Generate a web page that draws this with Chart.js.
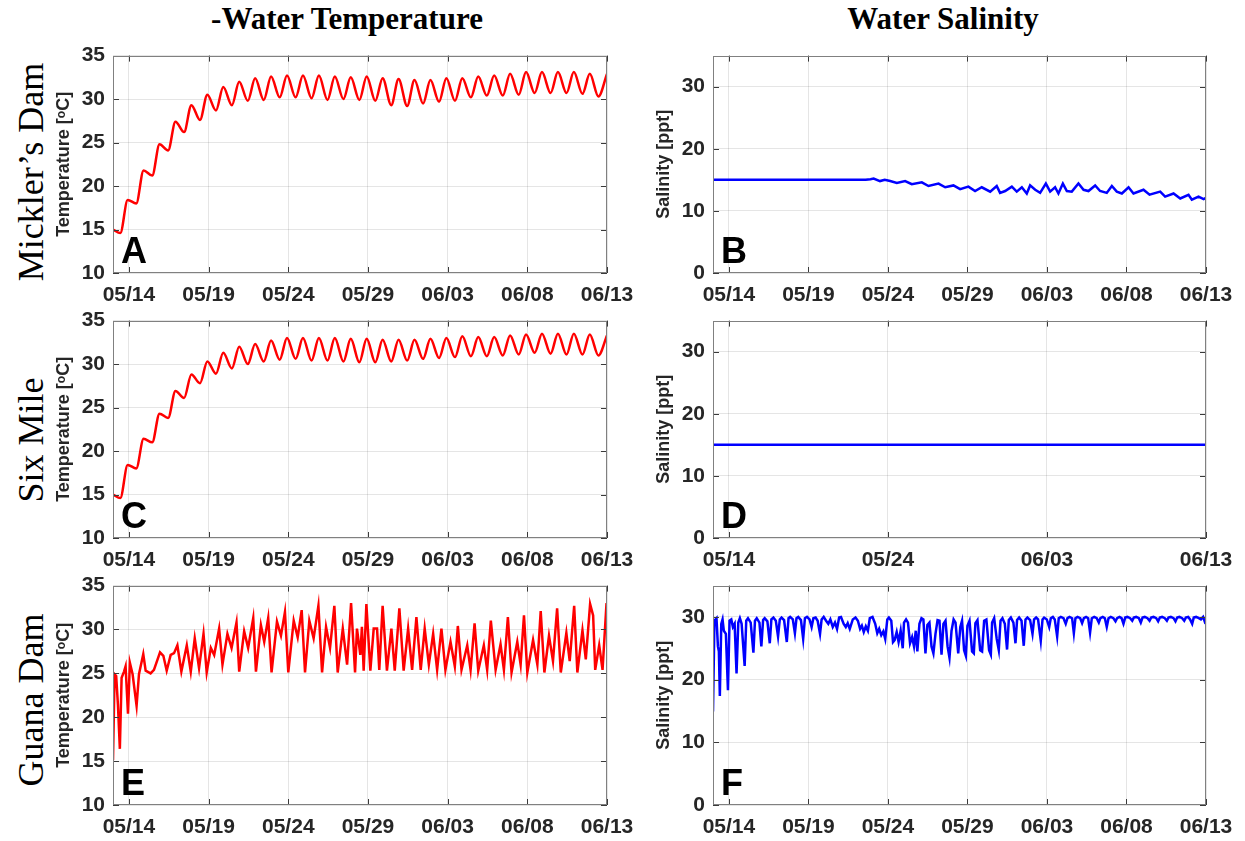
<!DOCTYPE html>
<html>
<head>
<meta charset="utf-8">
<script src="https://cdn.jsdelivr.net/npm/chart.js@4.4.1/dist/chart.umd.min.js"></script>
<style>
  html, body { margin: 0; padding: 0; background: #fff; }
  #page { position: relative; width: 1245px; height: 841px; overflow: hidden; background: #fff; }
  #page canvas { position: absolute; }
  .ctitle { position: absolute; top: 1px; font: bold 31px "Liberation Serif", serif; color: #000;
            transform: translateX(-50%); white-space: nowrap; }
  .rlabel { position: absolute; left: 31px; font: 36px "Liberation Serif", serif; color: #000;
            transform: translate(-50%, -50%) rotate(-90deg); white-space: nowrap; }
</style>
</head>
<body>
<div id="page">
  <div class="ctitle" style="left:347px">-Water Temperature</div>
  <div class="ctitle" style="left:943px">Water Salinity</div>
  <div class="rlabel" style="top:172px">Mickler’s Dam</div>
  <div class="rlabel" style="top:440px">Six Mile</div>
  <div class="rlabel" style="top:700px">Guana Dam</div>
</div>
<script>
// x values are days since 05/13 00:00
const dayTicks = [1, 6, 11, 16, 21, 26, 31];
const dayLabels = ['05/14', '05/19', '05/24', '05/29', '06/03', '06/08', '06/13'];
const dayTicksWide = [1, 11, 21, 31];
const dayLabelsWide = ['05/14', '05/24', '06/03', '06/13'];
const tempTicks = [10, 15, 20, 25, 30, 35];
const salTicks = [0, 10, 20, 30];

// Mickler's Dam temperature, daily lows / highs (°C), first and last reading
const micklerTempEnds = [15.0, 32.9];
const micklerTempLows = [14.6, 18.0, 21.2, 24.1, 26.2, 27.6, 28.7, 29.3, 29.8, 29.9, 30.2, 30.2, 30.1, 29.9, 30.0, 29.9,
  29.8, 29.3, 29.2, 29.5, 29.7, 29.8, 30.2, 30.4, 30.4, 30.5, 30.7, 30.7, 30.7, 30.6, 30.3];
const micklerTempHighs = [18.4, 21.8, 24.8, 27.4, 29.3, 30.5, 31.4, 32.0, 32.4, 32.6, 32.7, 32.7, 32.7, 32.6, 32.5,
  32.6, 32.4, 32.3, 32.2, 32.2, 32.4, 32.4, 32.6, 32.7, 32.9, 33.1, 33.1, 33.1, 33.1, 32.9];

// Six Mile temperature
const sixMileTempEnds = [15.0, 33.3];
const sixMileTempLows = [14.6, 18.0, 21.0, 23.8, 26.1, 27.8, 28.9, 29.5, 30.0, 30.3, 30.5, 30.6, 30.4, 30.4, 30.3, 30.2,
  30.2, 30.3, 30.4, 30.6, 30.7, 30.8, 30.9, 30.9, 31.0, 31.1, 31.3, 31.2, 31.1, 31.1, 31.0];
const sixMileTempHighs = [18.4, 21.4, 24.3, 26.9, 28.8, 30.3, 31.3, 32.0, 32.3, 32.7, 33.0, 33.0, 33.0, 33.0, 32.9,
  32.9, 32.8, 32.8, 32.8, 32.9, 33.0, 33.2, 33.1, 33.1, 33.3, 33.4, 33.5, 33.5, 33.5, 33.4];

// Guana Dam temperature [day, °C]
const guanaTemp = [[0, 15.1], [0.10, 24.9], [0.20, 24.7], [0.31, 21.4], [0.43, 16.4], [0.54, 24.5], [0.69, 25.2],
  [0.79, 25.8], [0.94, 20.4], [1.06, 26.2], [1.23, 24.9], [1.48, 21.3], [1.63, 24.9], [1.90, 27.2], [2.05, 25.3],
  [2.36, 25.0], [2.57, 25.4], [2.95, 27.4], [3.16, 27.0], [3.37, 25.3], [3.62, 27.1], [3.83, 27.3], [4.04, 28.2],
  [4.29, 25.2], [4.63, 28.2], [4.88, 25.2], [5.13, 29.0], [5.40, 25.6], [5.68, 29.5], [5.88, 25.1], [6.14, 27.9],
  [6.35, 27.1], [6.66, 30.1], [6.87, 26.0], [7.18, 29.5], [7.44, 27.9], [7.75, 30.8], [7.92, 25.2], [8.23, 29.8],
  [8.48, 27.9], [8.80, 31.3], [8.97, 25.2], [9.28, 30.5], [9.49, 28.6], [9.74, 31.3], [9.95, 25.1], [10.29, 30.9],
  [10.54, 29.3], [10.79, 32.0], [11.00, 25.1], [11.34, 31.0], [11.59, 29.1], [11.84, 32.2], [12.05, 25.1],
  [12.32, 31.0], [12.59, 29.0], [12.89, 32.7], [13.12, 25.1], [13.37, 30.3], [13.62, 27.9], [13.89, 32.7],
  [14.10, 25.1], [14.42, 30.1], [14.69, 26.0], [14.94, 33.0], [15.19, 25.1], [15.31, 30.1], [15.52, 27.1],
  [15.62, 30.3], [15.73, 25.3], [15.90, 32.9], [16.15, 25.3], [16.36, 30.1], [16.57, 30.1], [16.71, 25.4],
  [16.92, 32.7], [17.19, 25.3], [17.47, 30.1], [17.68, 25.3], [17.97, 32.4], [18.24, 25.3], [18.52, 30.1],
  [18.77, 25.4], [19.04, 31.4], [19.31, 25.4], [19.56, 30.1], [19.82, 26.0], [20.09, 29.5], [20.34, 25.4],
  [20.61, 30.1], [20.86, 25.4], [21.18, 28.6], [21.45, 25.8], [21.64, 30.4], [21.87, 25.4], [22.23, 28.2],
  [22.44, 25.4], [22.69, 30.7], [22.92, 25.3], [23.27, 28.2], [23.48, 25.4], [23.71, 31.0], [24.01, 25.4],
  [24.32, 28.3], [24.53, 25.4], [24.78, 31.4], [25.01, 25.1], [25.37, 28.6], [25.58, 26.0], [25.79, 31.6],
  [26.00, 25.1], [26.36, 28.8], [26.63, 26.0], [26.84, 32.1], [27.07, 25.1], [27.36, 29.3], [27.61, 26.4],
  [27.87, 32.4], [28.10, 25.1], [28.45, 29.6], [28.66, 26.4], [28.94, 32.7], [29.14, 25.1], [29.46, 29.9],
  [29.67, 26.6], [29.94, 32.9], [30.13, 31.6], [30.26, 25.4], [30.51, 28.2], [30.72, 25.4], [30.97, 33.0]];

// Mickler's Dam salinity [day, ppt]
const micklerSal = [[0, 15.0], [9.6, 15.0], [9.9, 15.1], [10.1, 15.2], [10.5, 14.8], [10.8, 15.0], [11.14, 14.8],
  [11.56, 14.5], [12.08, 14.8], [12.5, 14.3], [13.13, 14.6], [13.55, 14.0], [14.18, 14.4], [14.6, 13.8],
  [15.12, 14.1], [15.54, 13.5], [16.06, 13.9], [16.48, 13.2], [16.9, 13.8], [17.43, 13.1], [17.84, 14.0],
  [18.05, 12.9], [18.37, 13.2], [18.79, 13.9], [19.1, 13.1], [19.42, 13.8], [19.73, 12.8], [19.94, 14.1],
  [20.26, 13.4], [20.57, 12.9], [20.93, 14.4], [21.2, 13.1], [21.51, 13.8], [21.72, 12.8], [22.0, 14.4],
  [22.25, 13.2], [22.56, 13.1], [22.98, 14.4], [23.3, 13.4], [23.61, 13.2], [24.03, 14.1], [24.34, 13.2],
  [24.76, 12.9], [25.08, 14.0], [25.39, 13.1], [25.71, 12.8], [26.13, 13.8], [26.44, 12.8], [27.07, 13.4],
  [27.45, 12.6], [28.12, 13.1], [28.43, 12.3], [28.96, 12.8], [29.38, 12.0], [29.9, 12.6], [30.11, 11.8],
  [30.53, 12.3], [30.85, 11.9], [31, 12.1]];

// Six Mile salinity stays at 15 ppt
const sixMileSal = [[0, 15.0], [31, 15.0]];

// Guana Dam salinity [day, ppt]
const guanaSal = [[0, 14.9], [0.09, 29.4], [0.22, 29.8], [0.31, 25.3], [0.37, 24.5], [0.43, 17.4], [0.52, 28.9],
  [0.60, 29.6], [0.68, 27.8], [0.81, 27.3], [0.94, 18.3], [1.04, 29.4], [1.15, 29.6], [1.25, 28.4], [1.36, 28.9],
  [1.48, 21.0], [1.59, 29.1], [1.69, 29.8], [1.80, 28.9], [1.99, 22.2], [2.09, 29.4], [2.20, 29.8], [2.37, 29.1],
  [2.54, 24.3], [2.64, 29.4], [2.75, 29.8], [2.92, 29.1], [3.04, 25.3], [3.15, 29.5], [3.25, 29.8], [3.42, 29.3],
  [3.57, 25.8], [3.67, 29.6], [3.80, 29.9], [3.95, 29.4], [4.09, 26.9], [4.20, 29.6], [4.31, 29.9], [4.47, 29.5],
  [4.64, 26.0], [4.75, 29.8], [4.85, 30.0], [5.02, 29.6], [5.15, 27.4], [5.25, 29.8], [5.36, 30.0], [5.53, 29.5],
  [5.67, 26.5], [5.78, 29.8], [5.91, 30.0], [6.07, 29.6], [6.20, 28.4], [6.31, 29.8], [6.45, 29.9], [6.58, 29.4],
  [6.73, 27.3], [6.83, 29.6], [6.96, 30.0], [7.11, 29.4], [7.25, 28.9], [7.38, 29.6], [7.53, 28.4], [7.67, 29.1],
  [7.80, 28.1], [7.93, 29.9], [8.05, 30.0], [8.22, 28.9], [8.35, 28.4], [8.47, 29.0], [8.60, 28.1], [8.79, 29.6],
  [8.96, 29.9], [9.11, 29.4], [9.25, 28.1], [9.36, 28.6], [9.48, 27.6], [9.61, 28.5], [9.74, 27.8], [9.86, 29.8],
  [10.03, 30.0], [10.20, 28.9], [10.33, 27.4], [10.45, 28.1], [10.58, 27.1], [10.71, 27.7], [10.83, 26.5],
  [10.96, 29.6], [11.06, 29.9], [11.21, 29.4], [11.32, 26.0], [11.42, 26.3], [11.55, 27.6], [11.67, 26.0],
  [11.80, 27.8], [11.93, 25.0], [12.01, 29.1], [12.14, 29.6], [12.26, 29.1], [12.39, 25.8], [12.52, 26.8],
  [12.64, 25.3], [12.75, 27.8], [12.85, 24.5], [12.98, 28.9], [13.11, 29.8], [13.23, 29.6], [13.36, 24.2],
  [13.48, 28.7], [13.61, 29.1], [13.74, 25.3], [13.86, 24.2], [13.99, 27.3], [14.12, 29.5], [14.24, 29.4],
  [14.37, 24.0], [14.49, 28.9], [14.62, 29.4], [14.75, 25.3], [14.87, 23.5], [15.00, 27.8], [15.13, 29.6],
  [15.25, 29.1], [15.42, 24.2], [15.55, 28.4], [15.66, 29.4], [15.79, 24.7], [15.90, 23.8], [16.00, 28.6],
  [16.13, 29.4], [16.29, 24.5], [16.40, 24.2], [16.50, 29.0], [16.63, 29.5], [16.80, 24.7], [16.92, 24.5],
  [17.05, 29.4], [17.19, 29.6], [17.36, 24.7], [17.47, 24.0], [17.55, 29.1], [17.68, 29.8], [17.84, 26.5],
  [17.97, 24.7], [18.08, 29.4], [18.20, 29.8], [18.35, 28.9], [18.49, 24.8], [18.60, 29.5], [18.73, 29.9],
  [18.89, 29.1], [19.02, 25.8], [19.12, 29.5], [19.25, 29.9], [19.40, 29.4], [19.54, 25.4], [19.65, 29.6],
  [19.77, 29.9], [19.94, 29.5], [20.09, 27.3], [20.19, 29.6], [20.32, 29.9], [20.44, 29.6], [20.61, 26.2],
  [20.72, 29.6], [20.82, 29.9], [20.99, 29.6], [21.14, 28.4], [21.24, 29.8], [21.37, 30.0], [21.49, 29.6],
  [21.64, 26.9], [21.74, 29.8], [21.87, 30.0], [22.04, 29.8], [22.18, 28.9], [22.29, 29.8], [22.42, 30.0],
  [22.58, 29.8], [22.69, 27.4], [22.79, 29.8], [22.92, 30.0], [23.09, 29.8], [23.21, 29.0], [23.32, 29.8],
  [23.46, 30.0], [23.59, 29.8], [23.71, 27.5], [23.82, 29.8], [23.97, 30.0], [24.13, 29.8], [24.26, 29.1],
  [24.36, 29.8], [24.51, 30.0], [24.64, 29.8], [24.76, 28.4], [24.87, 29.8], [25.01, 30.0], [25.18, 29.8],
  [25.31, 29.3], [25.41, 29.8], [25.56, 30.0], [25.69, 29.8], [25.81, 28.9], [25.92, 29.9], [26.06, 30.0],
  [26.23, 29.8], [26.36, 29.4], [26.46, 29.9], [26.61, 30.0], [26.78, 29.8], [26.90, 29.1], [27.01, 29.9],
  [27.15, 30.0], [27.32, 29.8], [27.45, 29.4], [27.55, 29.9], [27.70, 30.0], [27.87, 29.8], [27.99, 29.3],
  [28.10, 29.9], [28.24, 30.0], [28.41, 29.8], [28.54, 29.4], [28.64, 29.9], [28.79, 30.0], [28.96, 29.8],
  [29.08, 29.3], [29.19, 29.9], [29.33, 30.0], [29.50, 29.8], [29.63, 29.4], [29.73, 29.9], [29.88, 30.0],
  [30.00, 29.6], [30.13, 28.9], [30.23, 29.9], [30.38, 30.0], [30.55, 29.8], [30.68, 29.6], [30.82, 30.0],
  [30.97, 28.9]];

// lows fall mid-day, highs late in the day
function dailyCycle(ends, lows, highs) {
  const pts = [{ x: 0, y: ends[0] }];
  lows.forEach((lo, i) => {
    pts.push({ x: i + 0.46, y: lo });
    if (i < highs.length) pts.push({ x: i + 0.92, y: highs[i] });
  });
  pts.push({ x: 31, y: ends[1] });
  return pts;
}
const toPoints = (arr) => arr.map(([x, y]) => ({ x, y }));

const TXT = '#262626';
const GRID = 'rgba(38,38,38,0.12)';
const LEFT = 65, TOP = 14, RIGHT = 40, BOTTOM = 40;
const tickFont = { family: '"Liberation Sans", Arial, sans-serif', size: 21, weight: 'bold' };

// axes box, inward tick marks, panel letter
const frame = {
  id: 'frame',
  afterDraw(chart, args, opts) {
    const { ctx, chartArea: a, scales: { x, y } } = chart;
    ctx.save();
    ctx.strokeStyle = '#3a3a3a';
    ctx.lineWidth = 1;
    ctx.beginPath();
    x.ticks.forEach((t) => {
      const px = Math.round(x.getPixelForValue(t.value)) + 0.5;
      ctx.moveTo(px, a.bottom); ctx.lineTo(px, a.bottom - 6);
      ctx.moveTo(px, a.top); ctx.lineTo(px, a.top + 6);
    });
    y.ticks.forEach((t) => {
      const py = Math.round(y.getPixelForValue(t.value)) + 0.5;
      ctx.moveTo(a.left, py); ctx.lineTo(a.left + 6, py);
      ctx.moveTo(a.right, py); ctx.lineTo(a.right - 6, py);
    });
    ctx.stroke();
    ctx.strokeStyle = '#808080';
    ctx.strokeRect(Math.round(a.left) + 0.5, Math.round(a.top) + 0.5, Math.round(a.width) - 1, Math.round(a.height) - 1);
    ctx.fillStyle = '#000';
    ctx.font = 'bold 36px "Liberation Sans", Arial, sans-serif';
    ctx.textBaseline = 'alphabetic';
    ctx.fillText(opts.letter, a.left + 8, a.bottom - 10);
    ctx.restore();
  }
};

const page = document.getElementById('page');

function panel(box, letter, points, color, smooth, yTitle, yTicks, yMin, xTicks, xLabels) {
  const cv = document.createElement('canvas');
  cv.width = box.r - box.l + LEFT + RIGHT;
  cv.height = box.b - box.t + TOP + BOTTOM;
  cv.style.left = (box.l - LEFT) + 'px';
  cv.style.top = (box.t - TOP) + 'px';
  page.appendChild(cv);

  new Chart(cv, {
    type: 'line',
    data: {
      datasets: [{
        data: points,
        borderColor: color,
        borderWidth: 2.5,
        pointRadius: 0,
        fill: false,
        cubicInterpolationMode: smooth ? 'monotone' : 'default',
        tension: 0
      }]
    },
    options: {
      responsive: false,
      animation: false,
      layout: { padding: { left: 0, top: TOP, right: RIGHT, bottom: 0 } },
      plugins: { legend: { display: false }, tooltip: { enabled: false }, frame: { letter } },
      scales: {
        x: {
          type: 'linear', min: 0, max: 31,
          afterBuildTicks: (s) => { s.ticks = xTicks.map((v) => ({ value: v })); },
          afterFit: (s) => { s.height = BOTTOM; },
          grid: { color: GRID, drawTicks: false },
          border: { display: false },
          ticks: {
            padding: 10, color: TXT, font: tickFont, maxRotation: 0, autoSkip: false,
            callback: (v, i) => xLabels[i]
          }
        },
        y: {
          min: yMin, max: 35,
          afterBuildTicks: (s) => { s.ticks = yTicks.map((v) => ({ value: v })); },
          afterFit: (s) => { s.width = LEFT; },
          grid: { color: GRID, drawTicks: false },
          border: { display: false },
          ticks: { padding: 8, color: TXT, font: tickFont },
          title: {
            display: true, text: yTitle, color: TXT,
            font: { family: '"Liberation Sans", Arial, sans-serif', size: 18, weight: 'bold' },
            padding: { top: 5, bottom: 0 }
          }
        }
      }
    },
    plugins: [frame]
  });
}

const tempTitle = 'Temperature [ᵒC]';
const salTitle = 'Salinity [ppt]';

panel({ l: 113, t: 49, r: 607, b: 273 }, 'A', dailyCycle(micklerTempEnds, micklerTempLows, micklerTempHighs),
  '#ff0000', true, tempTitle, tempTicks, 10, dayTicks, dayLabels);
panel({ l: 713, t: 49, r: 1206, b: 273 }, 'B', toPoints(micklerSal),
  '#0000ff', false, salTitle, salTicks, 0, dayTicks, dayLabels);
panel({ l: 113, t: 314, r: 607, b: 538 }, 'C', dailyCycle(sixMileTempEnds, sixMileTempLows, sixMileTempHighs),
  '#ff0000', true, tempTitle, tempTicks, 10, dayTicks, dayLabels);
panel({ l: 713, t: 314, r: 1206, b: 538 }, 'D', toPoints(sixMileSal),
  '#0000ff', false, salTitle, salTicks, 0, dayTicksWide, dayLabelsWide);
panel({ l: 113, t: 579, r: 607, b: 805 }, 'E', toPoints(guanaTemp),
  '#ff0000', false, tempTitle, tempTicks, 10, dayTicks, dayLabels);
panel({ l: 713, t: 579, r: 1206, b: 805 }, 'F', toPoints(guanaSal),
  '#0000ff', false, salTitle, salTicks, 0, dayTicks, dayLabels);
</script>
</body>
</html>
